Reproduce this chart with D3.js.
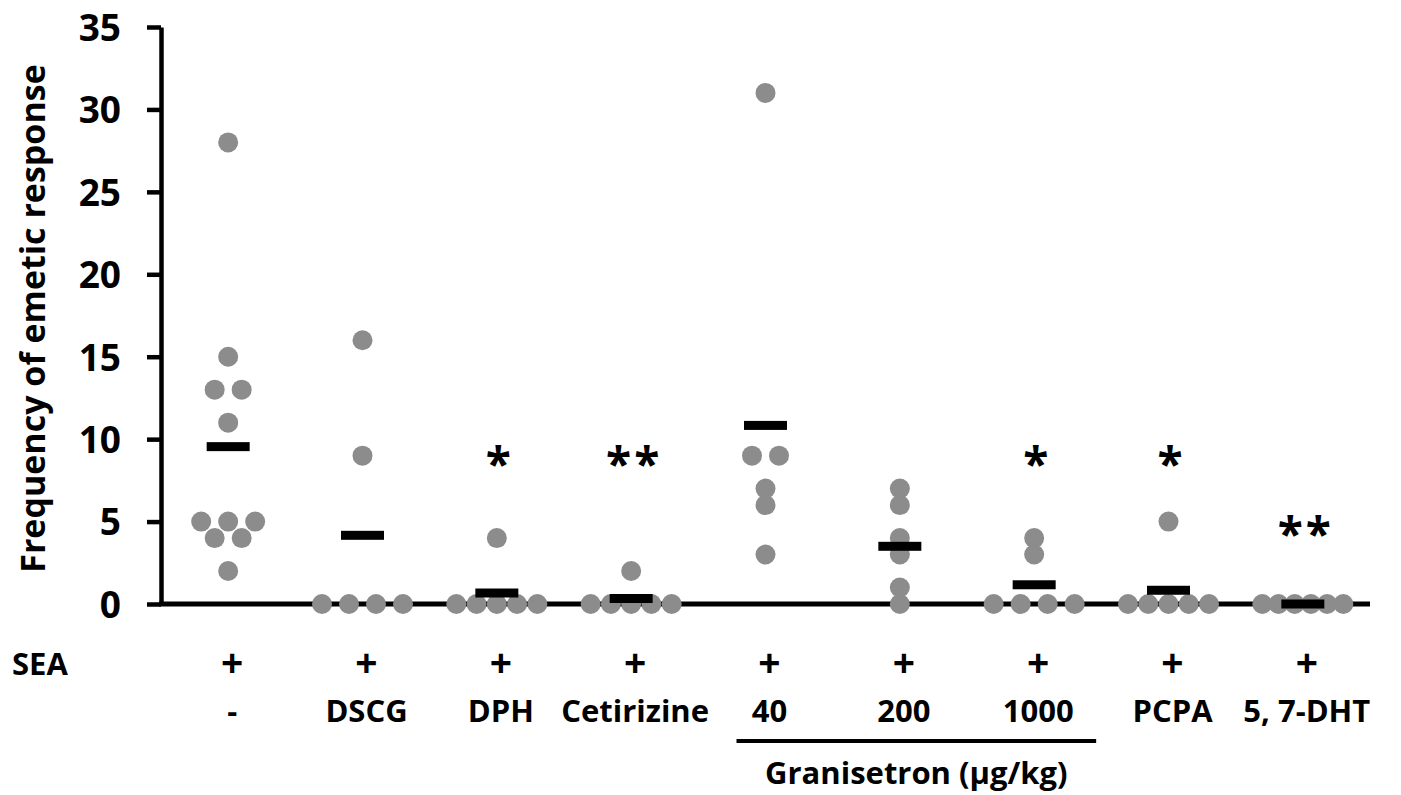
<!DOCTYPE html>
<html>
<head>
<meta charset="utf-8">
<script src="https://cdn.jsdelivr.net/npm/d3@7"></script>
<style>
  body { margin: 0; background: #fff; }
  text { font-family: 'Open Sans', sans-serif; font-weight: 700; fill: #000; }
</style>
</head>
<body>
<svg id="chart" width="1401" height="795"></svg>
<script>
// treatment groups (second label row) and the SEA row
var groups   = [ '-', 'DSCG', 'DPH', 'Cetirizine', '40', '200', '1000', 'PCPA', '5, 7-DHT' ];
var seaRow   = [ '+', '+', '+', '+', '+', '+', '+', '+', '+' ];
var signif   = [ '', '', '*', '**', '', '', '*', '*', '**' ];

// individual animals, frequency of emetic response
var valsNone   = [ 28, 15, 13, 13, 11, 5, 5, 5, 4, 4, 2 ];
var valsDSCG   = [ 16, 9, 0, 0, 0, 0 ];
var valsDPH    = [ 4, 0, 0, 0, 0, 0 ];
var valsCet    = [ 2, 0, 0, 0, 0, 0 ];
var valsG40    = [ 31, 9, 9, 7, 6, 3 ];
var valsG200   = [ 7, 6, 4, 3, 1, 0 ];
var valsG1000  = [ 4, 3, 0, 0, 0, 0 ];
var valsPCPA   = [ 5, 0, 0, 0, 0, 0 ];
var valsDHT    = [ 0, 0, 0, 0, 0, 0 ];

var yTicks = [ 0, 5, 10, 15, 20, 25, 30, 35 ];

var series = [ valsNone, valsDSCG, valsDPH, valsCet, valsG40, valsG200, valsG1000, valsPCPA, valsDHT ];

// chart geometry
var plotLeft = 161, plotRight = 1370, plotTop = 27, plotBase = 604;
var r = 10, maxGap = 27, maxRow = 81;

var svg = d3.select( '#chart' );

var xScale = d3.scaleBand()
               .domain( groups )
               .range( [ plotLeft, plotRight ] )
               .padding( 0 );
var bw = xScale.bandwidth();
function cx( g ) { return xScale( g ) + bw / 2; }

var yScale = d3.scaleLinear()
               .domain( [ 0, 35 ] )
               .range( [ plotBase, plotTop ] );

// y axis
var yAxis = d3.axisLeft( yScale )
              .tickValues( yTicks )
              .tickSize( 14 )
              .tickSizeOuter( 0 )
              .tickPadding( 26 );

var yG = svg.append( 'g' )
   .attr( 'transform', 'translate(' + plotLeft + ',0)' )
   .call( yAxis );
yG.select( '.domain' ).attr( 'stroke', '#000' ).attr( 'stroke-width', 4.5 );
yG.selectAll( '.tick line' ).attr( 'stroke', '#000' ).attr( 'stroke-width', 4.5 );
yG.selectAll( '.tick text' )
  .style( 'font-family', "'Open Sans', sans-serif" )
  .style( 'font-weight', 700 )
  .style( 'font-size', '37px' )
  .attr( 'dy', '0.36em' );

// y title
svg.append( 'text' )
   .attr( 'transform', 'translate(45,' + ( ( plotTop + plotBase ) / 2 + 3 ) + ') rotate(-90)' )
   .attr( 'text-anchor', 'middle' )
   .style( 'font-size', '34px' )
   .text( 'Frequency of emetic response' );

// x baseline
svg.append( 'line' )
   .attr( 'x1', plotLeft - 2 ).attr( 'x2', plotRight )
   .attr( 'y1', yScale( 0 ) ).attr( 'y2', yScale( 0 ) )
   .attr( 'stroke', '#000' ).attr( 'stroke-width', 5 );

// dot layout: equal values share a row, centred on the group
var points = [];
series.forEach( function( vals, gi ) {
	var rows = d3.group( vals, function( v ) { return v; } );
	rows.forEach( function( row, v ) {
		var n = row.length;
		var gap = n > 1 ? Math.min( maxGap, maxRow / ( n - 1 ) ) : 0;
		row.forEach( function( d, i ) {
			points.push( { g: groups[ gi ], v: v, off: ( i - ( n - 1 ) / 2 ) * gap } );
		});
	});
});

svg.selectAll( '.dot' )
   .data( points )
   .enter()
   .append( 'circle' )
   .attr( 'class', 'dot' )
   .attr( 'cx', function( d ) { return cx( d.g ) + d.off; } )
   .attr( 'cy', function( d ) { return yScale( d.v ); } )
   .attr( 'r', r )
   .attr( 'fill', '#8c8c8c' );

// mean bars
svg.selectAll( '.mean' )
   .data( series )
   .enter()
   .append( 'rect' )
   .attr( 'class', 'mean' )
   .attr( 'x', function( d, i ) { return cx( groups[ i ] ) - 21.5; } )
   .attr( 'y', function( d ) { return yScale( d3.mean( d ) ) - 4.5; } )
   .attr( 'width', 43 )
   .attr( 'height', 9 )
   .attr( 'fill', '#000' );

// significance marks
svg.selectAll( '.sig' )
   .data( signif )
   .enter()
   .append( 'text' )
   .attr( 'class', 'sig' )
   .attr( 'x', function( d, i ) { return cx( groups[ i ] ) + 3; } )
   .attr( 'y', function( d, i ) { return yScale( d3.max( series[ i ] ) > 0 ? 8.7 : 4.4 ) + 20; } )
   .attr( 'text-anchor', 'middle' )
   .style( 'font-size', '46px' )
   .style( 'letter-spacing', '3px' )
   .text( function( d ) { return d; } );

// label rows
svg.append( 'text' )
   .attr( 'x', 12 ).attr( 'y', 675 )
   .style( 'font-size', '31px' )
   .text( 'SEA' );

svg.selectAll( '.sea' )
   .data( seaRow )
   .enter()
   .append( 'text' )
   .attr( 'x', function( d, i ) { return cx( groups[ i ] ) + 4; } )
   .attr( 'y', 677 )
   .attr( 'text-anchor', 'middle' )
   .style( 'font-size', '39px' )
   .text( function( d ) { return d; } );

svg.selectAll( '.grp' )
   .data( groups )
   .enter()
   .append( 'text' )
   .attr( 'x', function( d ) { return cx( d ) + 4; } )
   .attr( 'y', 722 )
   .attr( 'text-anchor', 'middle' )
   .style( 'font-size', '31px' )
   .text( function( d ) { return d; } );

// granisetron bracket
var gx1 = cx( '40' ) - 29, gx2 = cx( '1000' ) + 62;
svg.append( 'line' )
   .attr( 'x1', gx1 ).attr( 'x2', gx2 )
   .attr( 'y1', 741 ).attr( 'y2', 741 )
   .attr( 'stroke', '#000' ).attr( 'stroke-width', 4 );

svg.append( 'text' )
   .attr( 'x', ( gx1 + gx2 ) / 2 ).attr( 'y', 784 )
   .attr( 'text-anchor', 'middle' )
   .style( 'font-size', '31px' )
   .text( 'Granisetron (\u00b5g/kg)' );
</script>
</body>
</html>
